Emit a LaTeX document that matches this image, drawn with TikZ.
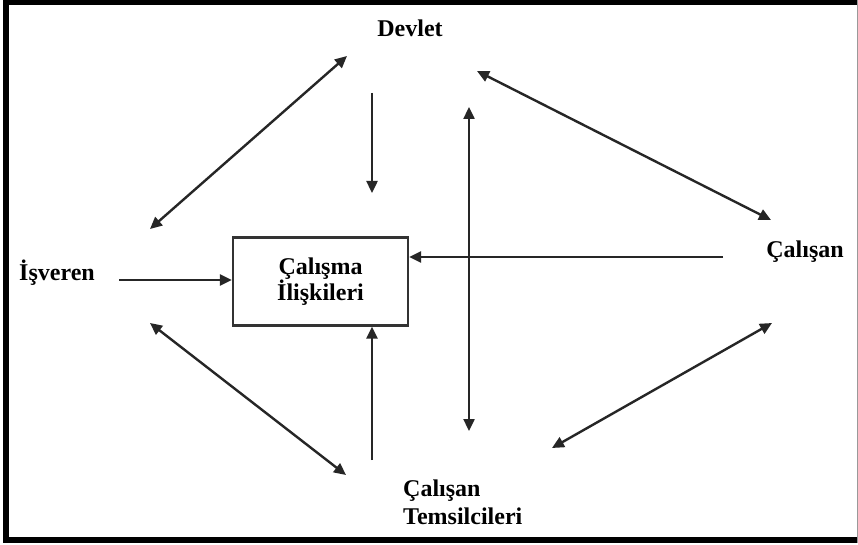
\documentclass[tikz,border=0pt]{standalone}
\usepackage{fontspec}
\setmainfont{Liberation Serif}
\usetikzlibrary{arrows.meta}
\begin{document}
\begin{tikzpicture}[x=1pt,y=-1pt,
  lbl/.style={font=\fontsize{24}{28}\selectfont\bfseries, inner sep=0pt},
  conn/.style={line width=2.4pt, draw=black!85, -{Triangle[length=12pt,width=11pt]}},
  dconn/.style={line width=2.4pt, draw=black!85, {Triangle[length=12pt,width=11pt]}-{Triangle[length=12pt,width=11pt]}}]
\useasboundingbox (0,0) rectangle (858,545);
\fill[white] (0,0) rectangle (858,545);
% frame
\fill[black] (3,0) rectangle (858,5);
\fill[black] (3,0) rectangle (9,543);
\fill[black] (3,537) rectangle (858,543);
\draw[black!40, line width=1pt] (857,0) -- (857,543);
% labels
\node[lbl] (devlet) at (410,28) {Devlet};
\node[lbl] (isveren) at (57,273) {İşveren};
\node[lbl] (calisan) at (805,252) {Çalışan};
\node[lbl, align=left, anchor=west, font=\fontsize{24}{28}\selectfont\bfseries] (temsil) at (403,502) {Çalışan\\Temsilcileri};
\node[draw=black!80, line width=2.4pt, minimum width=175pt, minimum height=88pt, align=center,
      font=\fontsize{24}{26}\selectfont\bfseries] (box) at (320.5,281.5) {Çalışma\\İlişkileri};
% connector end points
\coordinate (a1) at (150,229);
\coordinate (a2) at (347,56);
\coordinate (b1) at (372,93);
\coordinate (b2) at (372,193);
\coordinate (c1) at (469,107);
\coordinate (c2) at (469,431);
\coordinate (d1) at (477,71);
\coordinate (d2) at (771,220);
\coordinate (e1) at (723,257);
\coordinate (f1) at (119,280);
\coordinate (g1) at (150,323);
\coordinate (g2) at (346,475);
\coordinate (h1) at (372,460);
\coordinate (i1) at (772,323);
\coordinate (i2) at (552,448);
% connectors
\draw[dconn] (a1) -- (a2);
\draw[conn] (b1) -- (b2);
\draw[dconn] (c1) -- (c2);
\draw[dconn] (d1) -- (d2);
\draw[conn] (e1) -- (e1 -| box.east);
\draw[conn] (f1) -- (f1 -| box.west);
\draw[dconn] (g1) -- (g2);
\draw[conn] (h1) -- (h1 |- box.south);
\draw[dconn] (i1) -- (i2);
\end{tikzpicture}
\end{document}
